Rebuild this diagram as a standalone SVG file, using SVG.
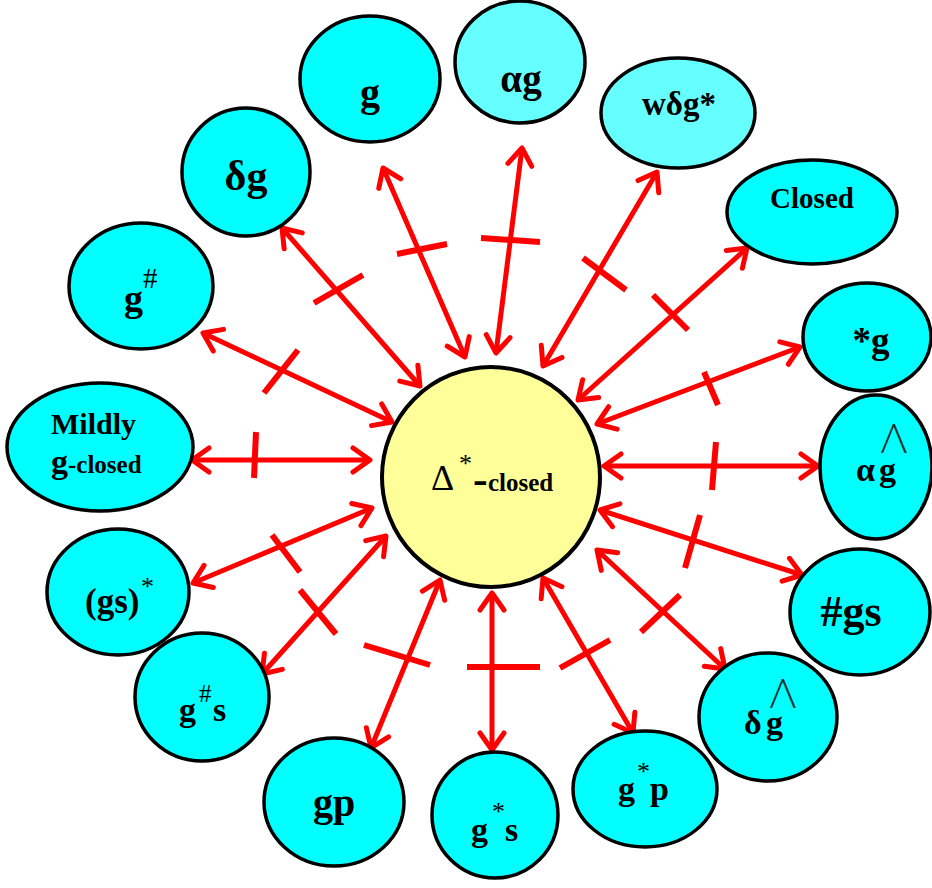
<svg xmlns="http://www.w3.org/2000/svg" width="932" height="888" viewBox="0 0 932 888">
<style>
.n{fill:#00ffff;stroke:#000;stroke-width:3.5}
.nl{fill:#66ffff;stroke:#000;stroke-width:3.5}
.c{fill:#ffff99;stroke:#000;stroke-width:4}
.t{font-family:"Liberation Serif","Times New Roman",serif;font-weight:bold;fill:#000}
.r{font-family:"Liberation Serif","Times New Roman",serif;font-weight:normal;fill:#000}
.hat{font-family:Lato,"Liberation Sans",sans-serif;font-weight:300;fill:#1a3030}
.a{stroke:#ff0000;stroke-width:5;fill:none;marker-start:url(#ah);marker-end:url(#ah)}
.b{stroke:#ff0000;stroke-width:6}
</style>
<defs>
<marker id="ah" markerUnits="userSpaceOnUse" viewBox="-22 -16 26 32" markerWidth="26" markerHeight="32" refX="0" refY="0" orient="auto-start-reverse">
<path d="M-17,-12 L0,0 L-17,12" fill="none" stroke="#ff0000" stroke-width="5" stroke-linecap="round" stroke-linejoin="round"/>
</marker>
</defs>
<g id="connectors">
<line class="a" x1="383" y1="168" x2="465" y2="357"/><line class="b" x1="397" y1="254" x2="447" y2="244"/>
<line class="a" x1="522" y1="148" x2="496" y2="353"/><line class="b" x1="481" y1="238" x2="540" y2="242"/>
<line class="a" x1="657" y1="172" x2="543" y2="366"/><line class="b" x1="583" y1="258" x2="626" y2="290"/>
<line class="a" x1="747" y1="248" x2="578" y2="400"/><line class="b" x1="653" y1="295" x2="688" y2="330"/>
<line class="a" x1="800" y1="347" x2="597" y2="424"/><line class="b" x1="704" y1="372" x2="718" y2="405"/>
<line class="a" x1="818" y1="466" x2="604" y2="466"/><line class="b" x1="716" y1="442" x2="712" y2="490"/>
<line class="a" x1="802" y1="575" x2="600" y2="510"/><line class="b" x1="700" y1="515" x2="685" y2="568"/>
<line class="a" x1="725" y1="669" x2="597" y2="550"/><line class="b" x1="641" y1="632" x2="680" y2="595"/>
<line class="a" x1="633" y1="733" x2="543" y2="578"/><line class="b" x1="560" y1="668" x2="610" y2="640"/>
<line class="a" x1="492" y1="750" x2="492" y2="593"/><line class="b" x1="467" y1="667" x2="540" y2="667"/>
<line class="a" x1="371" y1="748" x2="440" y2="580"/><line class="b" x1="364" y1="645" x2="430" y2="665"/>
<line class="a" x1="262" y1="674" x2="386" y2="536"/><line class="b" x1="300" y1="590" x2="336" y2="634"/>
<line class="a" x1="193" y1="583" x2="372" y2="508"/><line class="b" x1="272" y1="535" x2="300" y2="572"/>
<line class="a" x1="192" y1="460" x2="370" y2="460"/><line class="b" x1="256" y1="432" x2="254" y2="478"/>
<line class="a" x1="203" y1="333" x2="392" y2="422"/><line class="b" x1="264" y1="393" x2="298" y2="350"/>
<line class="a" x1="282" y1="228" x2="420" y2="386"/><line class="b" x1="314" y1="303" x2="363" y2="275"/>
</g>
<g id="center">
<ellipse class="c" cx="491" cy="477" rx="109" ry="110"/>
<text class="r" x="431" y="490" font-size="36">Δ</text>
<text class="r" x="459" y="472" font-size="26">*</text>
<text class="t" x="473" y="494" font-size="44">-</text>
<text class="t" x="488" y="491" font-size="25">closed</text>
</g>
<g id="n-g"><ellipse class="n" cx="370" cy="79" rx="70" ry="63"/><text class="t" x="370" y="106" font-size="40" text-anchor="middle">g</text></g>
<g id="n-ag"><ellipse class="nl" cx="520" cy="62" rx="65" ry="61"/><text class="t" x="521" y="92" font-size="39" text-anchor="middle">αg</text></g>
<g id="n-wdg"><ellipse class="nl" cx="678" cy="113" rx="77" ry="55"/><text class="t" x="679" y="115" font-size="33" text-anchor="middle">wδg*</text></g>
<g id="n-closed"><ellipse class="n" cx="812" cy="212" rx="85" ry="52"/><text class="t" x="812" y="208" font-size="29" text-anchor="middle">Closed</text></g>
<g id="n-sg"><ellipse class="n" cx="867" cy="337" rx="64" ry="54"/><text class="t" x="871" y="353" font-size="37" text-anchor="middle">*g</text></g>
<g id="n-aghat"><ellipse class="n" cx="876" cy="467" rx="56" ry="72"/>
<text class="t" x="856" y="481" font-size="34">α</text><text class="t" x="879" y="481" font-size="34">g</text>
<text class="hat" x="894" y="453" font-size="41" text-anchor="middle">Λ</text></g>
<g id="n-hgs"><ellipse class="n" cx="860" cy="612" rx="70" ry="63"/><text class="t" x="851" y="626" font-size="44" text-anchor="middle">#gs</text></g>
<g id="n-dghat"><ellipse class="n" cx="768" cy="717" rx="69" ry="64"/>
<text class="t" x="744" y="734" font-size="34">δ</text><text class="t" x="766" y="734" font-size="34">g</text>
<text class="hat" x="783" y="708" font-size="41" text-anchor="middle">Λ</text></g>
<g id="n-gsp"><ellipse class="n" cx="645" cy="789" rx="72" ry="58"/>
<text class="t" x="618" y="800" font-size="34">g</text><text class="r" x="637" y="780" font-size="26">*</text><text class="t" x="650" y="800" font-size="34">p</text></g>
<g id="n-gss"><ellipse class="n" cx="495" cy="815" rx="63" ry="63"/>
<text class="t" x="471" y="841" font-size="34">g</text><text class="r" x="492" y="820" font-size="26">*</text><text class="t" x="505" y="841" font-size="34">s</text></g>
<g id="n-gp"><ellipse class="n" cx="334" cy="802" rx="70" ry="64"/><text class="t" x="334" y="816" font-size="40" text-anchor="middle">gp</text></g>
<g id="n-ghs"><ellipse class="n" cx="202" cy="697" rx="67" ry="64"/>
<text class="t" x="179" y="721" font-size="34">g</text><text class="r" x="199" y="702" font-size="25">#</text><text class="t" x="213" y="721" font-size="34">s</text></g>
<g id="n-gsstar"><ellipse class="n" cx="118" cy="592" rx="71" ry="63"/>
<text class="t" x="85" y="613" font-size="35">(gs)</text><text class="r" x="141" y="595" font-size="26">*</text></g>
<g id="n-mildly"><ellipse class="n" cx="100" cy="447" rx="93" ry="64"/>
<text class="t" x="51" y="434" font-size="30">Mildly</text>
<text class="t" x="51" y="473"><tspan font-size="34">g</tspan><tspan font-size="25">-closed</tspan></text></g>
<g id="n-gh"><ellipse class="n" cx="141" cy="286" rx="72" ry="63"/>
<text class="t" x="124" y="311" font-size="38">g</text><text class="r" x="143" y="288" font-size="29">#</text></g>
<g id="n-dg"><ellipse class="n" cx="246" cy="172" rx="64" ry="64"/><text class="t" x="246" y="190" font-size="42" text-anchor="middle">δg</text></g>
</svg>
